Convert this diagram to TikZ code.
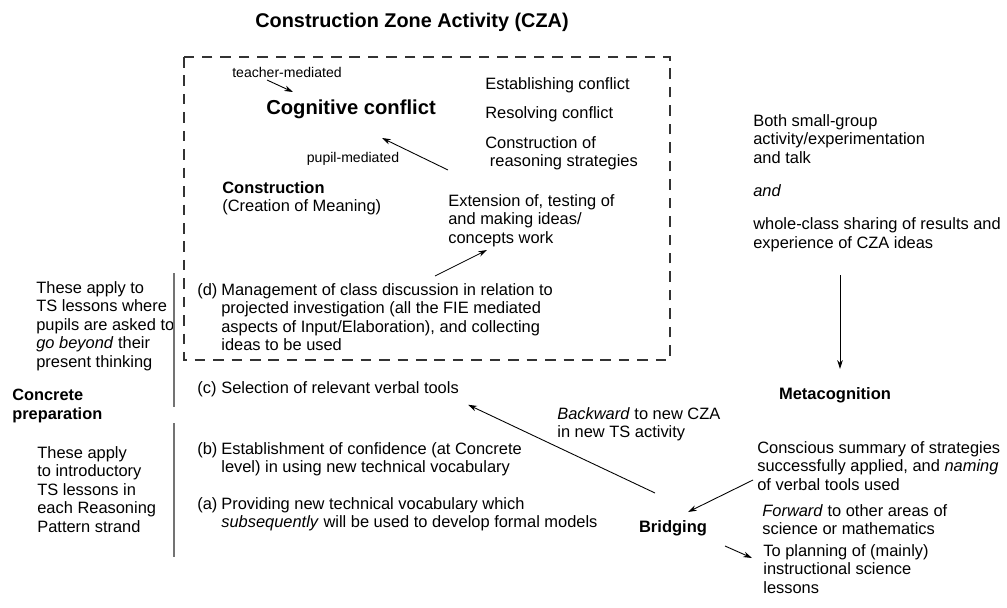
\documentclass[tikz,border=0pt]{standalone}
\usepackage{fontspec}
\setmainfont{Liberation Sans}
\usetikzlibrary{arrows.meta}

% text and line looks
\tikzset{
  txt/.style={anchor=north west, align=left, inner sep=0pt,
    font=\fontsize{9.35}{10.5}\selectfont},
  hdtxt/.style={txt, font=\fontsize{9.3}{10.5}\selectfont\bfseries},
  hd/.style={inner sep=0pt, font=\fontsize{9.4}{10.5}\selectfont\bfseries},
  big/.style={inner sep=0pt, font=\fontsize{11.5}{13}\selectfont\bfseries},
  small/.style={inner sep=0pt, font=\fontsize{8}{9}\selectfont},
  arr/.style={-{Stealth[length=5pt,width=3.2pt]}, line width=0.5pt},
  bar/.style={black!55, line width=0.9pt},
  zonebox/.style={dash pattern=on 6pt off 4.5pt, line width=0.6pt, black!80},
}

\begin{document}
\begin{tikzpicture}[x=0.02cm,y=-0.02cm]
\useasboundingbox (0,0) rectangle (1007,608);

\node[inner sep=0pt, font=\fontsize{11.3}{13}\selectfont\bfseries] (title) at (412,22) {Construction Zone Activity (CZA)};

% the zone itself
\draw[zonebox] (184,57) rectangle (670,360);
\node[small] (teach) at (287,72) {teacher-mediated};
\node[big] (cc) at (351,109) {Cognitive conflict};
\node[small] (pupil) at (353,159) {pupil-mediated};
\node[txt] (constr) at (222,181) {\textbf{Construction}\\(Creation of Meaning)};
\node[txt] (estab) at (485,77) {Establishing conflict};
\node[txt] (resolv) at (485,106) {Resolving conflict};
\node[txt] (reason) at (485,136) {Construction of\\\ reasoning strategies};
\node[txt] (extend) at (448,194) {Extension of, testing of\\and making ideas/\\concepts work};

% (d) ... (a)
\node[txt] (dmark) at (197,283) {(d)};
\node[txt] (dtext) at (221,283) {Management of class discussion in relation to\\projected investigation (all the FIE mediated\\aspects of Input/Elaboration), and collecting\\ideas to be used};
\node[txt] (cmark) at (197,381) {(c)};
\node[txt] (ctext) at (221,381) {Selection of relevant verbal tools};
\node[txt] (bmark) at (197,442) {(b)};
\node[txt] (btext) at (221,442) {Establishment of confidence (at Concrete\\level) in using new technical vocabulary};
\node[txt] (amark) at (197,497) {(a)};
\node[txt] (atext) at (221,497) {Providing new technical vocabulary which\\\textit{subsequently} will be used to develop formal models};

% left margin
\node[txt] (beyond) at (36,281) {These apply to\\TS lessons where\\pupils are asked to\\\textit{go beyond}\ their\\present thinking};
\node[hdtxt] (concrete) at (12,389) {Concrete\\preparation};
\node[txt] (intro) at (37,446) {These apply\\to introductory\\TS lessons in\\each Reasoning\\Pattern strand};
\draw[bar] (174,273) -- (174,407);
\draw[bar] (174,423) -- (174,557);

% right side
\node[txt] (share) at (753,114) {Both small-group\\activity/experimentation\\and talk\\[8.5pt]\textit{and}\\[8.5pt]whole-class sharing of results and\\experience of CZA ideas};
\node[hd] (meta) at (835,395) {Metacognition};
\node[txt] (summ) at (757,441) {Conscious summary of strategies\\successfully applied, and \textit{naming}\\of verbal tools used};
\node[txt] (back) at (557,407) {\textit{Backward} to new CZA\\in new TS activity};
\node[hd] (bridge) at (673,528) {Bridging};
\node[txt] (fwd) at (762,504) {\textit{Forward}\ to other areas of\\science or mathematics};
\node[txt] (plan) at (763,544) {To planning of (mainly)\\instructional science\\lessons};

% arrows
\draw[arr] ([shift={(-20,8)}]teach.center) -- ([shift={(-58,-17)}]cc.center);
\draw[arr] ([shift={(0,-24)}]extend.north west) -- ([shift={(31,29)}]cc.center);
\draw[arr] ([shift={(214,-7)}]dtext.north west) -- ([shift={(39,56)}]extend.north west);
\draw[arr] ([shift={(87,23)}]share.south west) -- ([shift={(5,-18)}]meta.north);
\draw[arr] ([shift={(-4,39)}]summ.north west) -- ([shift={(15,-16)}]bridge.center);
\draw[arr] ([shift={(-18,-35)}]bridge.center) -- ([shift={(9,11)}]ctext.south east);
\draw[arr] ([shift={(52,18)}]bridge.center) -- ([shift={(-11,14)}]plan.north west);
\end{tikzpicture}
\end{document}
